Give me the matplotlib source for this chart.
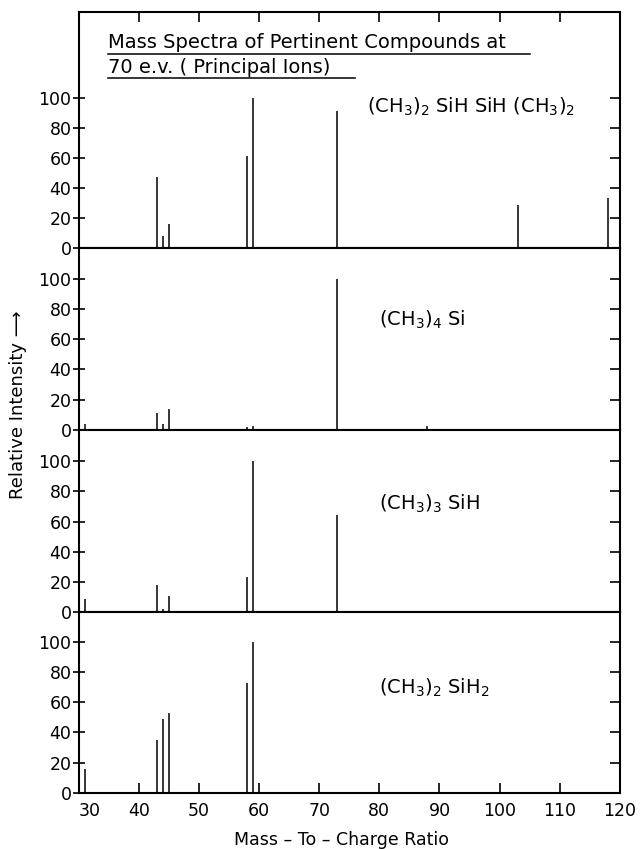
import matplotlib
matplotlib.use("Agg")
import matplotlib.pyplot as plt
from matplotlib.lines import Line2D
import matplotlib.markers as mmarkers

# ---- data ----
compounds = [r"(CH$_3$)$_2$ SiH SiH (CH$_3$)$_2$",
             r"(CH$_3$)$_4$ Si",
             r"(CH$_3$)$_3$ SiH",
             r"(CH$_3$)$_2$ SiH$_2$"]
mz_p1 = [43, 44, 45, 58, 59, 73, 103, 118]
int_p1 = [47.5, 8.4, 16, 61.5, 100, 91, 28.8, 33.4]
mz_p2 = [31, 43, 44, 45, 58, 59, 73, 88]
int_p2 = [3.5, 11.3, 3.5, 13.7, 1.8, 2.2, 100, 2.7]
mz_p3 = [31, 43, 44, 45, 58, 59, 73]
int_p3 = [8.9, 17.8, 2.2, 10.7, 23.2, 100, 64.4]
mz_p4 = [31, 43, 44, 45, 58, 59]
int_p4 = [15.5, 35, 49, 53, 73, 100]
x_ticks = [30, 40, 50, 60, 70, 80, 90, 100, 110, 120]
y_ticks = [0, 20, 40, 60, 80, 100]
title_lines = ["Mass Spectra of Pertinent Compounds at", "70 e.v. ( Principal Ions)"]
xlabel = "Mass \u2013 To \u2013 Charge Ratio"
ylabel = "Relative Intensity \u27f6"

series = [(mz_p1, int_p1), (mz_p2, int_p2), (mz_p3, int_p3), (mz_p4, int_p4)]

plt.rcParams['font.family'] = ['DejaVu Sans']
W, H = 641, 849
fig = plt.figure(figsize=(W / 100, H / 100), dpi=100)
gs = fig.add_gridspec(4, 1, height_ratios=[157, 120.5, 121, 120], hspace=0,
                      left=78.5 / W, right=620 / W, top=1 - 11.7 / H, bottom=1 - 792.7 / H)
ylims = [157, 120.5, 121, 120]
label_y = [94, 73, 72, 69.5]
label_x = [78, 80, 80, 80]
axes = []
for i in range(4):
    ax = fig.add_subplot(gs[i])
    axes.append(ax)
    mz, inten = series[i]
    ax.vlines(mz, 0, inten, colors='black', linewidth=1.1)
    ax.set_xlim(30, 120)
    ax.set_ylim(0, ylims[i])
    for s in ax.spines.values():
        s.set_linewidth(1.5)
    ax.set_yticks(y_ticks)
    ax.set_yticklabels([str(v) for v in y_ticks], fontsize=12.5)
    ax.tick_params(axis='y', which='both', left=True, right=True, direction='inout',
                   length=9, width=1.2, pad=0.5)
    for t in ax.yaxis.get_major_ticks():
        t.tick2line.set_markersize(7)
        t.tick2line.set_marker(mmarkers.TICKLEFT)
    ax.set_xticks(x_ticks)
    ax.tick_params(axis='x', which='both', bottom=False, top=False, labelbottom=False)
    ax.text(label_x[i], label_y[i], compounds[i], fontsize=14, va='center', ha='left')

# top ticks on first panel
axes[0].set_xticks(x_ticks[1:-1])
axes[0].tick_params(axis='x', top=True, direction='in', length=7, width=1.2)

# bottom panel x axis
axb = axes[-1]
axb.set_xticks(x_ticks)
axb.set_xticklabels([str(v) for v in x_ticks], fontsize=12.5)
axb.tick_params(axis='x', bottom=True, labelbottom=True, direction='in', length=7, width=1.2, pad=7)
axb.get_xticklabels()[0].set_ha('left')

fig.text(341 / W, 1 - 845 / H, xlabel, fontsize=12.5, ha='center', va='baseline')
fig.text(18 / W, 1 - 405 / H, ylabel, rotation=90, ha='center', va='center', fontsize=13)

# title with underlines
fig.text(108 / W, 1 - 48.3 / H, title_lines[0], fontsize=14, ha='left', va='baseline')
fig.text(108 / W, 1 - 72.7 / H, title_lines[1], fontsize=14, ha='left', va='baseline')
fig.add_artist(Line2D([108 / W, 530 / W], [1 - 54 / H, 1 - 54 / H], color='black', lw=1.1))
fig.add_artist(Line2D([108 / W, 355 / W], [1 - 78.3 / H, 1 - 78.3 / H], color='black', lw=1.1))

fig.savefig("out.png", dpi=100)
